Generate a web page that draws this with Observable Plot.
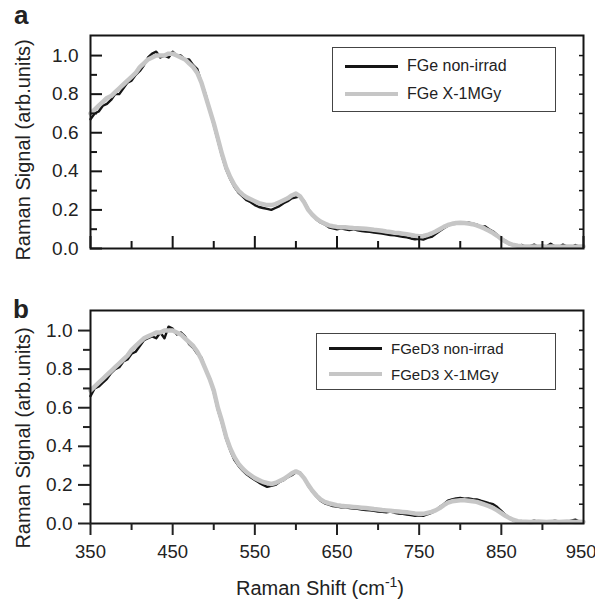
<!DOCTYPE html>
<html>
<head>
<meta charset="utf-8">
<script src="https://cdn.jsdelivr.net/npm/d3@7"></script>
<script src="https://cdn.jsdelivr.net/npm/@observablehq/plot@0.6"></script>
<style>
  body { margin: 0; background: #fff; }
  #wrap { position: relative; width: 595px; height: 601px; font-family: "Liberation Sans", Arial, sans-serif; color: #222; overflow: hidden; }
  #wrap > .plot { position: absolute; left: 0; }
  .legend { position: absolute; border: 1px solid #444; background: #fff; box-sizing: border-box; }
  .legend .row { position: absolute; display: flex; align-items: center; white-space: nowrap; }
  .legend .sw { display: inline-block; width: 53px; margin-right: 9px; }
  .ytitle { position: absolute; transform: translate(-50%, -50%) rotate(-90deg); white-space: nowrap; font-size: 20px; }
  .xtitle { position: absolute; transform: translateX(-50%); white-space: nowrap; font-size: 20px; }
  .panel { position: absolute; font-weight: bold; font-size: 26px; line-height: 1; }
</style>
</head>
<body>
<div id="wrap"></div>
<script>
// ---------- data ----------
const shiftStart = 350, shiftStep = 5;   // Raman shift grid, cm^-1 (350..950)

const aNonIrrad = [
0.67,0.70,0.71,0.74,0.75,0.77,0.80,0.80,0.83,0.86,0.87,0.90,0.92,0.95,0.99,1.01,1.02,0.99,1.00,0.99,
1.02,1.00,1.00,0.98,0.98,0.95,0.93,0.86,0.80,0.72,0.64,0.56,0.48,0.41,0.36,0.32,0.29,0.27,0.25,0.24,
0.225,0.215,0.21,0.205,0.20,0.21,0.22,0.235,0.245,0.26,0.265,0.27,0.245,0.205,0.175,0.15,0.135,0.125,0.11,0.105,
0.10,0.104,0.10,0.095,0.10,0.094,0.09,0.088,0.086,0.082,0.08,0.078,0.074,0.07,0.068,0.064,0.06,0.058,0.052,0.048,
0.05,0.046,0.055,0.06,0.075,0.09,0.105,0.118,0.127,0.128,0.135,0.13,0.135,0.128,0.125,0.11,0.115,0.10,0.088,0.07,
0.052,0.04,0.022,0.02,0.012,0.018,0.008,0.012,0.02,0.008,0.015,0.01,0.025,0.012,0.008,0.02,0.01,0.005,0.018,0.01,
0.012];
const aIrrad = [
0.70,0.72,0.74,0.76,0.78,0.79,0.81,0.83,0.85,0.87,0.89,0.91,0.94,0.96,0.98,0.99,1.00,1.00,1.00,1.01,
1.01,1.00,0.99,0.98,0.96,0.94,0.91,0.86,0.79,0.72,0.65,0.57,0.49,0.42,0.37,0.33,0.30,0.28,0.265,0.255,
0.245,0.235,0.23,0.225,0.225,0.23,0.24,0.25,0.26,0.275,0.285,0.27,0.24,0.20,0.175,0.155,0.14,0.13,0.12,0.115,
0.112,0.11,0.11,0.108,0.106,0.105,0.104,0.102,0.10,0.097,0.095,0.092,0.088,0.085,0.082,0.08,0.077,0.074,0.07,0.066,
0.064,0.065,0.07,0.078,0.088,0.10,0.112,0.122,0.128,0.132,0.133,0.132,0.13,0.126,0.12,0.112,0.103,0.092,0.08,0.066,
0.05,0.036,0.025,0.018,0.014,0.012,0.011,0.01,0.01,0.011,0.01,0.009,0.01,0.011,0.01,0.009,0.01,0.01,0.009,0.01,
0.01];
const bNonIrrad = [
0.66,0.70,0.71,0.73,0.75,0.78,0.80,0.81,0.84,0.85,0.88,0.89,0.92,0.95,0.96,0.97,0.96,0.99,0.96,1.02,
1.01,0.98,0.99,0.97,0.93,0.91,0.88,0.86,0.80,0.75,0.68,0.59,0.52,0.44,0.38,0.33,0.30,0.275,0.255,0.24,
0.225,0.212,0.20,0.19,0.195,0.20,0.215,0.225,0.24,0.25,0.265,0.265,0.235,0.195,0.165,0.14,0.118,0.105,0.098,0.09,
0.088,0.084,0.085,0.08,0.078,0.076,0.072,0.07,0.068,0.066,0.062,0.06,0.058,0.062,0.056,0.052,0.05,0.046,0.044,0.04,
0.042,0.04,0.048,0.055,0.068,0.085,0.10,0.118,0.125,0.13,0.132,0.128,0.13,0.126,0.125,0.118,0.112,0.105,0.10,0.085,
0.065,0.045,0.028,0.015,0.01,0.008,0.012,0.01,0.015,0.008,0.012,0.01,0.008,0.015,0.01,0.012,0.008,0.015,0.02,0.01,
0.008];
const bIrrad = [
0.69,0.71,0.73,0.75,0.77,0.79,0.81,0.83,0.85,0.87,0.90,0.92,0.94,0.96,0.97,0.98,0.99,0.99,1.00,1.00,
1.00,0.99,0.98,0.96,0.94,0.92,0.89,0.85,0.80,0.75,0.69,0.60,0.53,0.45,0.39,0.345,0.31,0.285,0.265,0.25,
0.235,0.225,0.215,0.21,0.205,0.21,0.22,0.23,0.245,0.26,0.27,0.26,0.235,0.20,0.17,0.145,0.125,0.112,0.105,0.10,
0.095,0.092,0.09,0.088,0.086,0.084,0.082,0.08,0.078,0.075,0.073,0.07,0.068,0.066,0.064,0.062,0.06,0.058,0.055,0.052,
0.05,0.05,0.055,0.06,0.068,0.08,0.095,0.108,0.115,0.118,0.12,0.12,0.118,0.115,0.112,0.105,0.098,0.09,0.08,0.068,
0.054,0.04,0.028,0.018,0.012,0.01,0.009,0.008,0.009,0.01,0.009,0.008,0.009,0.01,0.008,0.009,0.01,0.009,0.008,0.009,
0.008];

const xMajor = [350, 450, 550, 650, 750, 850];
const xLast = [950];
const xMinor = [400, 500, 600, 700, 800, 900];
const yMajor = [0, 0.2, 0.4, 0.6, 0.8, 1.0];
const yMinor = [0.1, 0.3, 0.5, 0.7, 0.9];
const yAll = [0.1, 0.2, 0.3, 0.4, 0.5, 0.6, 0.7, 0.8, 0.9, 1.0];
const legendA = ["FGe non-irrad", "FGe X-1MGy"];
const legendB = ["FGeD3 non-irrad", "FGeD3 X-1MGy"];
const panelLabels = ["a", "b"];
const xTitle = "Raman Shift (cm";
const yTitle = "Raman Signal (arb.units)";

// ---------- build ----------
const toRows = (vals) => vals.map((v, i) => ({shift: shiftStart + i * shiftStep, v}));
const BLACK = "#151515", GRAY = "#c6c6c6";
const W = 595, ML = 90, MR = 12, MT = 35;
const innerW = W - ML - MR;
const yDomain = [0, 1.104];

function panel({non, irr, height, marginBottom, outward}) {
  const innerH = height - MT - marginBottom;
  const marks = [
    Plot.line(toRows(non), {x: "shift", y: "v", stroke: BLACK, strokeWidth: 2.4}),
    Plot.line(toRows(irr), {x: "shift", y: "v", stroke: GRAY, strokeWidth: 4.5}),
    Plot.tickY(yAll, {y: d => d, insetLeft: innerW - 4, stroke: BLACK, strokeWidth: 1.5}),
    Plot.frame({stroke: BLACK, strokeWidth: 2})
  ];
  if (outward) {
    marks.push(
      Plot.axisX({ticks: xMajor, tickSize: 12, tickPadding: 9, tickFormat: d => String(d), fontSize: 18.5, strokeWidth: 2, label: null}),
      Plot.axisX({ticks: xLast, tickSize: 12, tickPadding: 9, tickFormat: d => String(d), fontSize: 18.5, strokeWidth: 2, label: null, textAnchor: "end", dx: 13}),
      Plot.axisX({ticks: xMinor, tickSize: 7, tickFormat: () => "", strokeWidth: 2, label: null}),
      Plot.axisY({ticks: yMajor, tickSize: 12, tickPadding: 6, tickFormat: d3.format(".1f"), fontSize: 19, strokeWidth: 2, label: null}),
      Plot.axisY({ticks: yMinor, tickSize: 7, tickFormat: () => "", strokeWidth: 2, label: null})
    );
  } else {
    marks.push(
      Plot.tickX(xMajor.concat(xLast), {x: d => d, insetTop: innerH - 12, stroke: BLACK, strokeWidth: 2}),
      Plot.tickX(xMinor, {x: d => d, insetTop: innerH - 7, stroke: BLACK, strokeWidth: 2}),
      Plot.tickY(yMajor, {y: d => d, insetRight: innerW - 12, stroke: BLACK, strokeWidth: 2}),
      Plot.tickY(yMinor, {y: d => d, insetRight: innerW - 7, stroke: BLACK, strokeWidth: 2}),
      Plot.axisY({ticks: yMajor, tickSize: 0, tickPadding: 12, tickFormat: d3.format(".1f"), fontSize: 19, label: null}),
      Plot.axisX({ticks: [], label: null})
    );
  }
  return Plot.plot({
    width: W, height,
    marginLeft: ML, marginRight: MR, marginTop: MT, marginBottom,
    style: {fontFamily: '"Liberation Sans", Arial, sans-serif', color: "#222", background: "transparent", overflow: "visible"},
    x: {domain: [350, 950]},
    y: {domain: yDomain},
    marks
  });
}

const wrap = document.getElementById("wrap");
const pA = panel({non: aNonIrrad, irr: aIrrad, height: 265, marginBottom: 17, outward: false});
pA.classList.add("plot"); pA.style.top = "0px";
const pB = panel({non: bNonIrrad, irr: bIrrad, height: 326, marginBottom: 78, outward: true});
pB.classList.add("plot"); pB.style.top = "275px";
wrap.append(pA, pB);

function addLegend(labels, box, rows) {
  const lg = document.createElement("div");
  lg.className = "legend";
  Object.assign(lg.style, {left: box[0] + "px", top: box[1] + "px", width: box[2] + "px", height: box[3] + "px"});
  labels.forEach((t, i) => {
    const r = document.createElement("div");
    r.className = "row";
    Object.assign(r.style, {left: rows.x + "px", top: (rows.y[i] - 10) + "px", height: "20px", fontSize: rows.fs + "px"});
    const sw = document.createElement("span");
    sw.className = "sw";
    sw.style.width = rows.sw + "px";
    sw.style.borderTop = i === 0 ? `3px solid ${BLACK}` : `4px solid ${GRAY}`;
    r.append(sw, document.createTextNode(t));
    lg.append(r);
  });
  wrap.append(lg);
}
addLegend(legendA, [332, 47, 224, 65], {x: 12, y: [18, 46], fs: 16, sw: 53});
addLegend(legendB, [316, 333, 240, 57], {x: 12, y: [14, 40], fs: 15, sw: 53});

function addDiv(cls, html, style) {
  const d = document.createElement("div");
  d.className = cls; d.innerHTML = html;
  Object.assign(d.style, style);
  wrap.append(d);
}
addDiv("panel", panelLabels[0], {left: "14px", top: "2px"});
addDiv("panel", panelLabels[1], {left: "13px", top: "296px"});
addDiv("ytitle", yTitle, {left: "23px", top: "150px"});
addDiv("ytitle", yTitle, {left: "23px", top: "438px"});
addDiv("xtitle", xTitle + "<sup style='font-size:14px'>-1</sup>)", {left: "320px", top: "574px"});
</script>
</body>
</html>
